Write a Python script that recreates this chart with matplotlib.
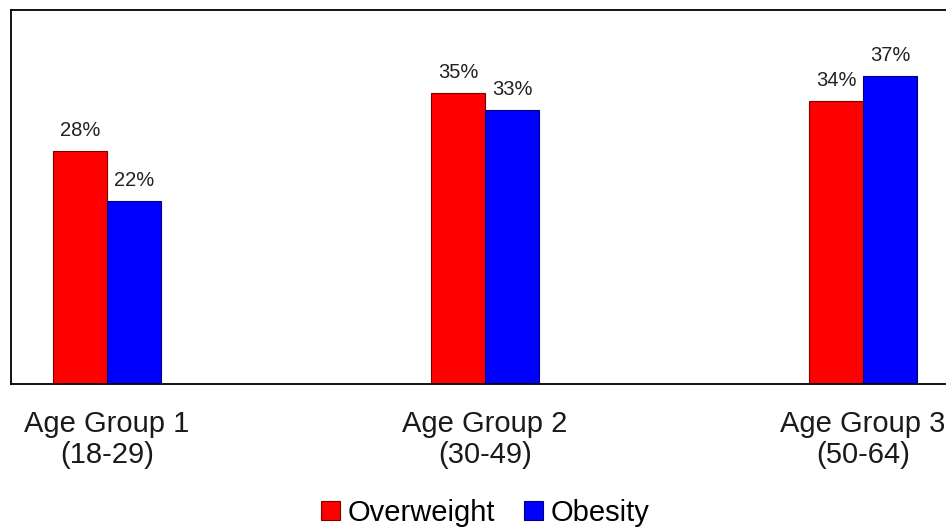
import matplotlib.pyplot as plt
import numpy as np

plt.rcParams['font.family'] = ['Liberation Sans', 'DejaVu Sans']

groups = ['Age Group 1\n(18-29)', 'Age Group 2\n(30-49)', 'Age Group 3\n(50-64)']
overweight = [28, 35, 34]
obesity = [22, 33, 37]

fig = plt.figure(figsize=(9.46, 5.29), dpi=100)
ax = fig.add_axes([11 / 946, 145 / 529, 948 / 946, 374 / 529])

x = np.arange(len(groups))
w = 0.143
b1 = ax.bar(x - w / 2, overweight, w, color='#ff0000', edgecolor='#7a0000', linewidth=0.8, label='Overweight')
b2 = ax.bar(x + w / 2, obesity, w, color='#0000ff', edgecolor='#00007a', linewidth=0.8, label='Obesity')

ax.bar_label(b1, labels=[f'{v}%' for v in overweight], padding=8, fontsize=14.5, color='#222222')
ax.bar_label(b2, labels=[f'{v}%' for v in obesity], padding=8, fontsize=14.5, color='#222222')

ax.set_xlim(-0.254, 2.254)
ax.set_ylim(0, 45)
ax.set_yticks([])
ax.set_xticks(x)
ax.set_xticklabels(groups, fontsize=21, color='#1a1a1a', linespacing=1.12)
ax.tick_params(axis='x', length=0, pad=19)
ax.spines['right'].set_visible(False)
for s in ['left', 'top', 'bottom']:
    ax.spines[s].set_linewidth(1.3)

fig.legend(handles=[b1, b2], loc='center', bbox_to_anchor=(485 / 946, 1 - 513 / 529),
           ncol=2, frameon=False, fontsize=21, handlelength=0.65, handleheight=0.65,
           handletextpad=0.25, columnspacing=1.0)

plt.savefig('out.png', dpi=100)
